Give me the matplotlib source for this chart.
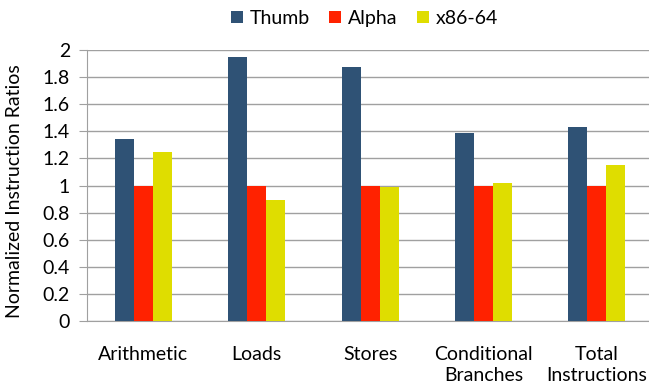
import matplotlib
matplotlib.use("Agg")
import matplotlib.pyplot as plt
import numpy as np

categories = ["Arithmetic", "Loads", "Stores", "Conditional\nBranches", "Total\nInstructions"]
series_names = ["Thumb", "Alpha", "x86-64"]
thumb = [1.345, 1.949, 1.875, 1.385, 1.434]
alpha = [1.0, 1.0, 1.0, 1.0, 1.0]
x86 = [1.247, 0.892, 0.993, 1.02, 1.153]
colors = ["#2f5275", "#ff2200", "#dfdd00"]

plt.rcParams["font.family"] = ["Lato", "DejaVu Sans"]

fig = plt.figure(figsize=(6.49, 3.83), dpi=100)
ax = fig.add_axes([0.1336, 0.162, 0.8664, 0.707])

x = np.arange(len(categories))
width = 0.167
for i, (vals, name) in enumerate(zip([thumb, alpha, x86], series_names)):
    ax.bar(x + (i - 1) * width, vals, width, color=colors[i], label=name, zorder=3)

ax.set_ylim(0, 2)
ax.set_xlim(-0.5, 4.46)
ax.set_yticks(np.arange(0, 2.01, 0.2))
ax.set_yticklabels(["0", "0.2", "0.4", "0.6", "0.8", "1", "1.2", "1.4", "1.6", "1.8", "2"])
ax.set_xticks(x)
ax.set_xticklabels(categories, linespacing=1.3)
ax.yaxis.grid(True, color="#a0a0a0", linewidth=1.0, zorder=0)
ax.tick_params(axis="y", length=6, color="#a0a0a0", labelsize=14, pad=6)
ax.tick_params(axis="x", length=0, labelsize=14, pad=18)
for s in ["top", "right"]:
    ax.spines[s].set_visible(False)
for s in ["left", "bottom"]:
    ax.spines[s].set_color("#a0a0a0")
ax.set_ylabel("Normalized Instruction Ratios", fontsize=14)
ax.yaxis.set_label_coords(-0.113, 0.48)

ax.legend(loc="center", bbox_to_anchor=(0.494, 1.117), ncol=3, frameon=False,
          fontsize=14, handlelength=0.6, handleheight=0.6, handletextpad=0.35, columnspacing=1.0)

fig.savefig("out.png", dpi=100)
